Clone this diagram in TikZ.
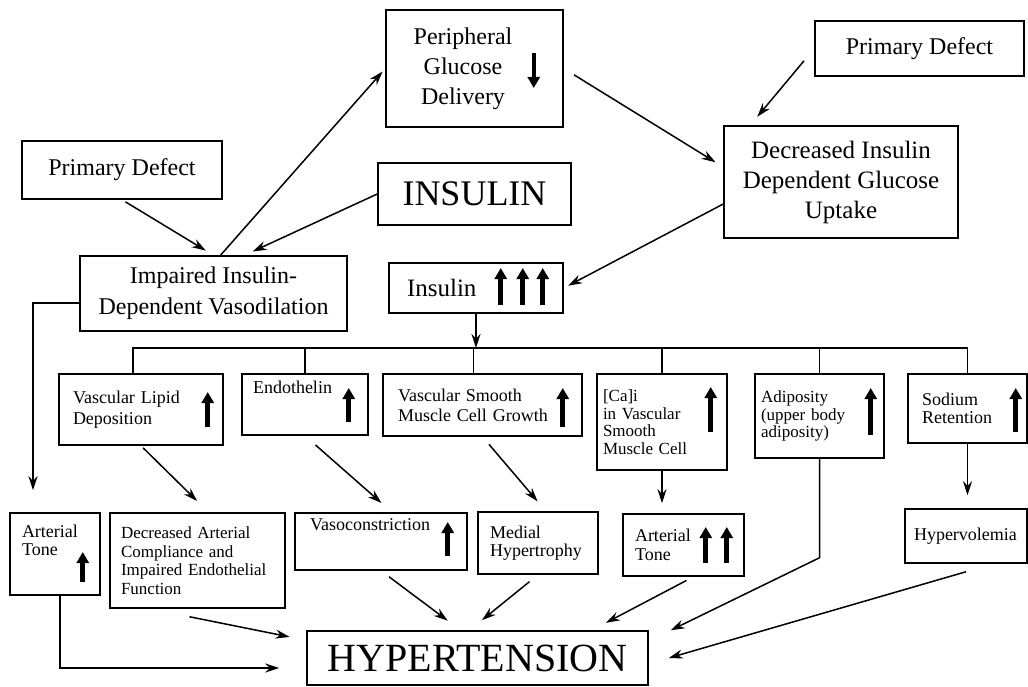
\documentclass[tikz,border=0pt]{standalone}
\usepackage{fontspec}
\setmainfont{Liberation Serif}
\usetikzlibrary{arrows.meta,calc}
\hyphenpenalty=10000
\exhyphenpenalty=10000

\tikzset{
    box/.style={draw, line width=1.5pt, inner ysep=3pt},
    big/.style={box, align=center, font=\fontsize{24}{30}\selectfont},
    small/.style={box, align=left, font=\fontsize{18}{18.5}\selectfont},
    conn/.style={line width=1.5pt, -{Stealth[length=14pt,width=9pt]}},
    busline/.style={line width=1.5pt},
    rise/.style={line width=5pt, -{Triangle[length=11pt,width=12pt]}},
}

\begin{document}
\begin{tikzpicture}[x=1pt, y=-1pt]
    \useasboundingbox (0,0) rectangle (1028,687);

    % upper part
    \node[big, minimum width=177pt, minimum height=117pt] (per) at (474.5,68.5)
        {\begin{tabular}{@{}c@{}}Peripheral\\Glucose\\Delivery\end{tabular}\hspace{23pt}};
    \node[big, minimum width=209pt, minimum height=55pt] (pdr) at (919.5,48.5) {Primary Defect};
    \node[big, minimum width=200pt, minimum height=58pt] (pdl) at (122,170) {Primary Defect};
    \node[big, font=\fontsize{36}{40}\selectfont, minimum width=193pt, minimum height=62pt] (ins) at (474.5,194) {INSULIN};
    \node[big, font=\fontsize{25}{30}\selectfont, minimum width=234pt, minimum height=112pt] (dig) at (841,182)
        {Decreased Insulin\\Dependent Glucose\\Uptake};
    \node[big, font=\fontsize{24}{31}\selectfont, minimum width=267pt, minimum height=75pt] (iidv) at (213.5,293.5)
        {Impaired Insulin-\\Dependent Vasodilation};
    \node[big, align=left, font=\fontsize{25}{30}\selectfont, text width=138pt, inner xsep=18pt, minimum height=50pt] (insup) at (476,288) {Insulin};
    \coordinate (bus) at (476,348);

    % effects of insulin
    \node[small, font=\fontsize{18}{21}\selectfont, text width=136pt, inner xsep=14pt, minimum height=71pt] (lipid) at (141,409.5) {Vascular Lipid\\Deposition};
    \node[small, text width=104pt, inner xsep=11pt, text height=16pt, text depth=39pt] (endo) at (305,404.5) {Endothelin};
    \node[small, font=\fontsize{18}{20}\selectfont, text width=169pt, inner xsep=15pt, minimum height=62pt] (vsmc) at (482.5,405) {Vascular Smooth\\Muscle Cell Growth};
    \node[small, font=\fontsize{17}{17.5}\selectfont, text width=118pt, inner xsep=6pt, minimum height=96pt] (cai) at (662,422) {[Ca]i\\in Vascular\\Smooth\\Muscle Cell};
    \node[small, font=\fontsize{17}{17.5}\selectfont, text width=117pt, inner xsep=6pt, minimum height=84pt] (adip) at (819.5,416) {Adiposity\\(upper body\\adiposity)};
    \node[small, text width=91pt, inner xsep=14pt, minimum height=69pt] (sod) at (967.5,408.5) {Sodium\\Retention};

    % lower row
    \node[small, text width=66pt, inner xsep=12pt, text height=21pt, text depth=55pt] (atl) at (55,554) {Arterial\\Tone};
    \node[small, font=\fontsize{17}{18.5}\selectfont, text width=153pt, inner xsep=11pt, minimum height=95pt] (dac) at (197.5,560.5) {Decreased Arterial\\Compliance and\\Impaired Endothelial\\Function};
    \node[small, text width=142pt, inner xsep=15pt, text height=14pt, text depth=37pt] (vcon) at (381,541.5) {Vasoconstriction};
    \node[small, text width=96pt, inner xsep=12pt, minimum height=62pt] (med) at (538,543) {Medial\\Hypertrophy};
    \node[small, text width=97pt, inner xsep=12pt, minimum height=62pt] (atr) at (683.5,545) {Arterial\\Tone};
    \node[small, text width=104pt, inner xsep=9pt, minimum height=54pt] (hyv) at (966,536) {Hypervolemia};
    \node[big, font=\fontsize{40}{44}\selectfont, minimum width=341pt, minimum height=54pt] (hyp) at (477.5,658) {HYPERTENSION};

    % up and down marks
    \draw[rise, line width=4pt] ($(per.east)+(-30,-15.5)$) -- ++(0,35);
    \foreach \n/\dx/\dy/\len in {insup/-63/17/37, insup/-41/17/37, insup/-21/17/37,
        lipid/-16/17.5/35, endo/-20/17.5/34, vsmc/-20/22/39, cai/-17/10/45,
        adip/-14/19/47, sod/-12/23.5/44, atl/-18/28/30, vcon/-20/14.5/34,
        atr/-39/18/36, atr/-18/18/36}
    {
        \draw[rise] ($(\n.east)+(\dx,\dy)$) -- ++(0,-\len);
    }

    % connectors, top
    \draw[conn, shorten >=4pt] ([xshift=7pt]iidv.north) -- (per.west);
    \draw[conn, shorten <=12pt, shorten >=9pt] (per.east) -- ([yshift=15pt]dig.west);
    \draw[conn, shorten <=16pt, shorten >=11pt] (pdr.west) -- ([xshift=27pt]dig.north west);
    \draw[conn, shorten >=5pt] ([yshift=-22pt]dig.west) -- (insup.east);
    \draw[conn, shorten <=4pt, shorten >=9pt] (pdl.south) -- (iidv.north);
    \draw[conn, shorten >=9pt] (ins.west) -- ([xshift=31pt]iidv.north);
    \draw[conn, shorten >=22pt] ([yshift=-9.5pt]iidv.west) -| ([xshift=-22pt]atl.north);

    % bus
    \draw[conn] (insup.south) -- (bus);
    \draw[busline] ([xshift=-8pt]lipid.north) |- (bus) -| (sod.north);
    \draw[busline] ([xshift=-9pt]vsmc.north) -- ++(0,-26);
    \foreach \n in {endo, cai, adip}
    {
        \draw[busline] (\n.north) -- (\n.north |- bus);
    }

    % connectors, middle
    \draw[conn, shorten <=3pt, shorten >=16pt] (lipid.south) -- ([xshift=11pt]dac.north);
    \draw[conn, shorten <=14pt, shorten >=14pt] (endo.south) -- ([xshift=11pt]vcon.north);
    \draw[conn, shorten <=10pt, shorten >=13pt] (vsmc.south) -- ([xshift=8pt]med.north);
    \draw[conn, shorten >=10pt] (cai.south) -- (cai.south |- atr.north);
    \draw[conn, shorten >=13pt] (sod.south) -- (sod.south |- hyv.north);

    % into hypertension
    \draw[conn, shorten >=27pt] ([xshift=5pt]atl.south) |- ([yshift=-10pt]hyp.west);
    \draw[conn, shorten >=17pt] ([xshift=-8pt,yshift=-8pt]dac.south) -- ([yshift=-10pt]hyp.north west);
    \draw[conn, shorten <=10pt, shorten >=16pt] (vcon.south) -- ([xshift=-17pt]hyp.north);
    \draw[conn, shorten <=11pt, shorten >=16pt] (med.south) -- ([xshift=-8pt]hyp.north);
    \draw[conn, shorten <=8pt, shorten >=16pt] ([xshift=10pt]atr.south) -- ([xshift=-57pt]hyp.north east);
    \draw[conn] (adip.south) -- ++(0,99) -- ([xshift=22pt]hyp.north east);
    \draw[conn] ([yshift=-8pt]hyv.south) -- ([xshift=20pt]hyp.east);
\end{tikzpicture}
\end{document}
